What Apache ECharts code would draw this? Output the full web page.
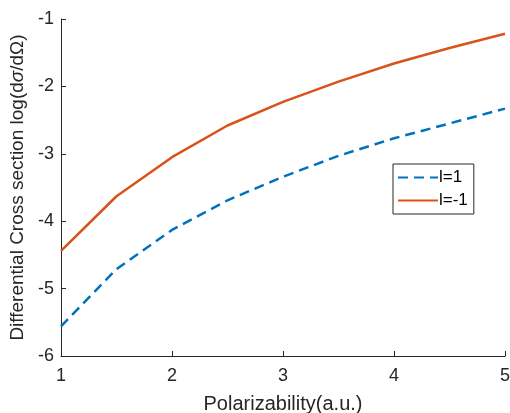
<!DOCTYPE html>
<html>
<head>
<meta charset="utf-8">
<script src="https://cdn.jsdelivr.net/npm/echarts@6/dist/echarts.min.js"></script>
<style>
  html, body { margin: 0; padding: 0; background: #fff; }
  #chart { width: 510px; height: 413px; }
</style>
</head>
<body>
<div id="chart"></div>
<script>
// polarizability (a.u.)
var polar = [1, 1.5, 2, 2.5, 3, 3.5, 4, 4.5, 5];
// log(dσ/dΩ)
var lPlus = [-5.56, -4.71, -4.13, -3.69, -3.34, -3.03, -2.77, -2.55, -2.33];
var lMinus = [-4.44, -3.63, -3.05, -2.58, -2.23, -1.93, -1.66, -1.43, -1.22];
var seriesNames = ['l=1', 'l=-1'];

function pairs (xs, ys) {
  return xs.map(function (x, i) { return [x, ys[i]]; });
}

var axisColor = '#262626';
var font = 'Arial, "Liberation Sans", sans-serif';

var option = {
  backgroundColor: '#fff',
  animation: false,
  grid: { left: 61, right: 5, top: 19, bottom: 57, containLabel: false, outerBoundsMode: 'none' },
  legend: {
    data: seriesNames,
    orient: 'vertical',
    left: 393,
    top: 164,
    itemWidth: 40,
    itemHeight: 12,
    itemGap: 6,
    padding: [5, 6, 5, 4],
    borderColor: axisColor,
    borderWidth: 1,
    backgroundColor: '#fff',
    itemStyle: { opacity: 0 },
    textStyle: { color: '#000', fontSize: 17, fontFamily: font, padding: [0, 0, 0, -4] }
  },
  xAxis: {
    type: 'value',
    min: 1,
    max: 5,
    interval: 1,
    name: 'Polarizability(a.u.)',
    nameLocation: 'middle',
    nameGap: 38,
    nameTextStyle: { color: axisColor, fontSize: 20, fontFamily: font },
    axisLine: { show: true, lineStyle: { color: axisColor, width: 1 } },
    axisTick: { show: true, inside: true, length: 5, lineStyle: { color: axisColor } },
    axisLabel: { color: axisColor, fontSize: 18, fontFamily: font, margin: 11 },
    splitLine: { show: false }
  },
  yAxis: {
    type: 'value',
    min: -6,
    max: -1,
    interval: 1,
    name: '{a|Differential Cross section log(d}{i|σ}{a|/dΩ)}',
    nameLocation: 'middle',
    nameGap: 29,
    nameTextStyle: {
      color: axisColor,
      fontSize: 19,
      fontFamily: font,
      rich: {
        a: { color: axisColor, fontSize: 19, fontFamily: font },
        i: { color: axisColor, fontSize: 19, fontFamily: font, fontStyle: 'italic' }
      }
    },
    axisLine: { show: true, lineStyle: { color: axisColor, width: 1 } },
    axisTick: { show: true, inside: true, length: 5, lineStyle: { color: axisColor } },
    axisLabel: { color: axisColor, fontSize: 18, fontFamily: font, margin: 7 },
    splitLine: { show: false }
  },
  series: [
    {
      name: seriesNames[0],
      type: 'line',
      data: pairs(polar, lPlus),
      showSymbol: false,
      symbol: 'none',
      color: '#0072BD',
      lineStyle: { color: '#0072BD', width: 2.5, type: [10, 6] }
    },
    {
      name: seriesNames[1],
      type: 'line',
      data: pairs(polar, lMinus),
      showSymbol: false,
      symbol: 'none',
      color: '#D95319',
      lineStyle: { color: '#D95319', width: 2.5, type: 'solid' }
    }
  ]
};

var myChart = echarts.init(document.getElementById('chart'), null, { renderer: 'canvas' });
myChart.setOption(option);
</script>
</body>
</html>
